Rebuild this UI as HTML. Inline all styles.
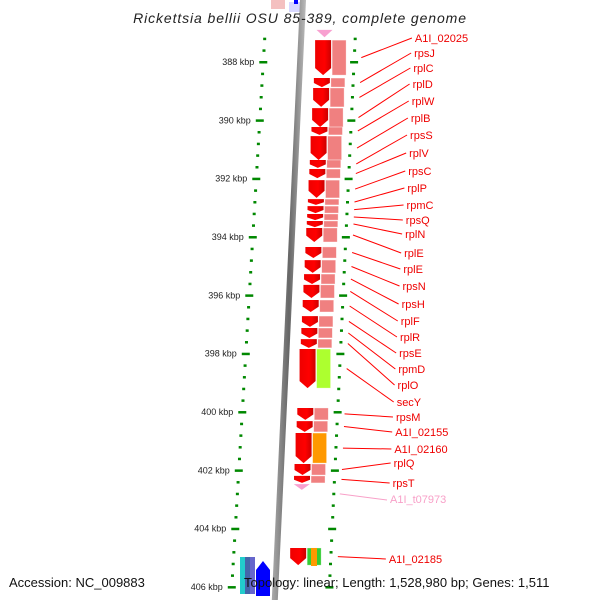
<!DOCTYPE html>
<html><head><meta charset="utf-8"><style>
body{margin:0;background:#fff;width:600px;height:600px;overflow:hidden}
svg{font-family:"Liberation Sans","DejaVu Sans",sans-serif}
</style></head><body>
<svg id="c" width="600" height="600">
<defs>
<linearGradient id="bb" x1="0" x2="1"><stop offset="0" stop-color="#aaa"/><stop offset="0.5" stop-color="#666"/><stop offset="1" stop-color="#bbb"/></linearGradient>
<linearGradient id="rg" x1="0" x2="1"><stop offset="0" stop-color="#e00"/><stop offset="0.6" stop-color="#f00"/><stop offset="1" stop-color="#c00"/></linearGradient>
</defs>
<g id="top-stub">
<rect x="271" y="0" width="14" height="9" fill="#f4c0c0"/>
<rect x="289" y="2" width="14" height="10" fill="#d8d8ff"/>
<rect x="294" y="0" width="4" height="4" fill="#00f"/>
</g>
<g id="g"></g>
<text x="300" y="23" text-anchor="middle" font-size="14" font-style="italic" letter-spacing="0.9" fill="#222">Rickettsia bellii OSU 85-389, complete genome</text>
<text x="9" y="587" font-size="13" fill="#111">Accession: NC_009883</text>
<text x="244" y="587" font-size="13" fill="#111">Topology: linear; Length: 1,528,980 bp; Genes: 1,511</text>
</svg>
<script>
const geneStart=[387.25,388.55,388.89,389.58,390.23,390.54,391.36,391.67,392.05,392.7,392.94,393.21,393.45,393.69,394.34,394.79,395.27,395.64,396.16,396.71,397.12,397.5,397.84,399.86,400.31,400.72,401.78,402.19,404.66];
const geneEnd=[388.45,388.86,389.54,390.23,390.5,391.36,391.63,391.98,392.66,392.9,393.18,393.42,393.66,394.17,394.72,395.23,395.61,396.09,396.57,397.08,397.46,397.8,399.18,400.27,400.68,401.75,402.16,402.43,405.25];
const barColor=["#f08080","#f08080","#f08080","#f08080","#f08080","#f08080","#f08080","#f08080","#f08080","#f08080","#f08080","#f08080","#f08080","#f08080","#f08080","#f08080","#f08080","#f08080","#f08080","#f08080","#f08080","#f08080","#adff2f","#f08080","#f08080","#ff9900","#f08080","#f08080","#33cc33"];
const geneLabels=["A1I_02025","rpsJ","rplC","rplD","rplW","rplB","rpsS","rplV","rpsC","rplP","rpmC","rpsQ","rplN","rplE","rplE","rpsN","rpsH","rplF","rplR","rpsE","rpmD","rplO","secY","rpsM","A1I_02155","A1I_02160","rplQ","rpsT","A1I_02185"];
const labelY=[42,57,72,88,105,122,139,157,175,192,209,224,238,257,273,290,308,325,341,357,373,389,406,421,436,453,467,487,563];
const tickKbp=[388,390,392,394,396,398,400,402,404,406];
const NS="http://www.w3.org/2000/svg";
const g=document.getElementById('g');
function Y(k){return 62+(k-388)*29.17;}
function bbX(y){return 303-0.047*y;}
function lax(y){return 267-0.06*y;}
function rax(y){return 357-0.047*y;}
function gx(y){return 318-0.05*y;}
function mk(t,a){const e=document.createElementNS(NS,t);for(const k in a)e.setAttribute(k,a[k]);g.appendChild(e);return e;}
let bb=mk('polygon',{points:`${bbX(0)-3},0 ${bbX(0)+3},0 ${bbX(600)+3},600 ${bbX(600)-3},600`,fill:'url(#bb)'});


for(let k=387.2;k<=406.01;k+=0.4){
  const y=Y(k);const major=Math.abs(k-Math.round(k))<0.01&&Math.round(k)%2===0;
  const w=major?8:3;
  let d=mk('rect',{x:lax(y)-w/2,y:y-1,width:w,height:2.5,fill:'#080'});
  
  
  let d2=mk('rect',{x:rax(y)-w/2,y:y-1,width:w,height:2.5,fill:'#080'});
  
  
}
tickKbp.forEach(k=>{const y=Y(k);
  let t=mk('text',{x:lax(y)-9,y:y+3,'font-size':9,'text-anchor':'end',fill:'#222'});
  t.textContent=k+' kbp';
  
  
});
for(let i=0;i<geneStart.length;i++){
  const y0=Y(geneStart[i]),y1=Y(geneEnd[i]),ym=(y0+y1)/2;
  const x=gx(ym),w=16,h=y1-y0,tip=Math.min(7,h*0.45);
  let a=mk('polygon',{points:`${x},${y0} ${x+w},${y0} ${x+w},${y1-tip} ${x+w/2},${y1} ${x},${y1-tip}`,fill:'url(#rg)'});
  
  
  let b=mk('rect',{x:x+17,y:y0,width:14,height:h,fill:barColor[i],stroke:'#fff','stroke-opacity':0.5,'stroke-width':0.7});
  
  
  const lx=415-0.05*(labelY[i]-40);
  let l=mk('line',{x1:rax(ym)+7,y1:ym,x2:lx-3,y2:labelY[i]-4,stroke:'#f00','stroke-width':1});
  
  
  let t=mk('text',{x:lx,y:labelY[i],'font-size':11,fill:'#e00'});
  t.textContent=geneLabels[i];
  
  
}
[[386.9,387.15],[402.47,402.67]].forEach((r,i)=>{
  const y0=Y(r[0]),y1=Y(r[1]),x=gx(y0);
  let p=mk('polygon',{points:`${x},${y0} ${x+16},${y0} ${x+8},${y1}`,fill:'#f8a0d0'});
  
  
});
{const y=Y(402.67)+4;const lx=390;
let l=mk('line',{x1:rax(y)+6,y1:y,x2:lx-3,y2:500,stroke:'#f8a0c8'});


let t=mk('text',{x:lx,y:503,'font-size':11,fill:'#f8a0c8'});t.textContent='A1I_t07973';

}
[['#22cccc',240],['#4466aa',245],['#6666cc',250]].forEach(c=>{let r=mk('rect',{x:c[1],y:557,width:5,height:37,fill:c[0]});

});
let ba=mk('polygon',{points:'256,570 263,561 270,570 270,596 256,596',fill:'#00f'});


let ob=mk('rect',{x:311,y:548,width:6,height:18,fill:'#ff9900'});


</script>
</body></html>
